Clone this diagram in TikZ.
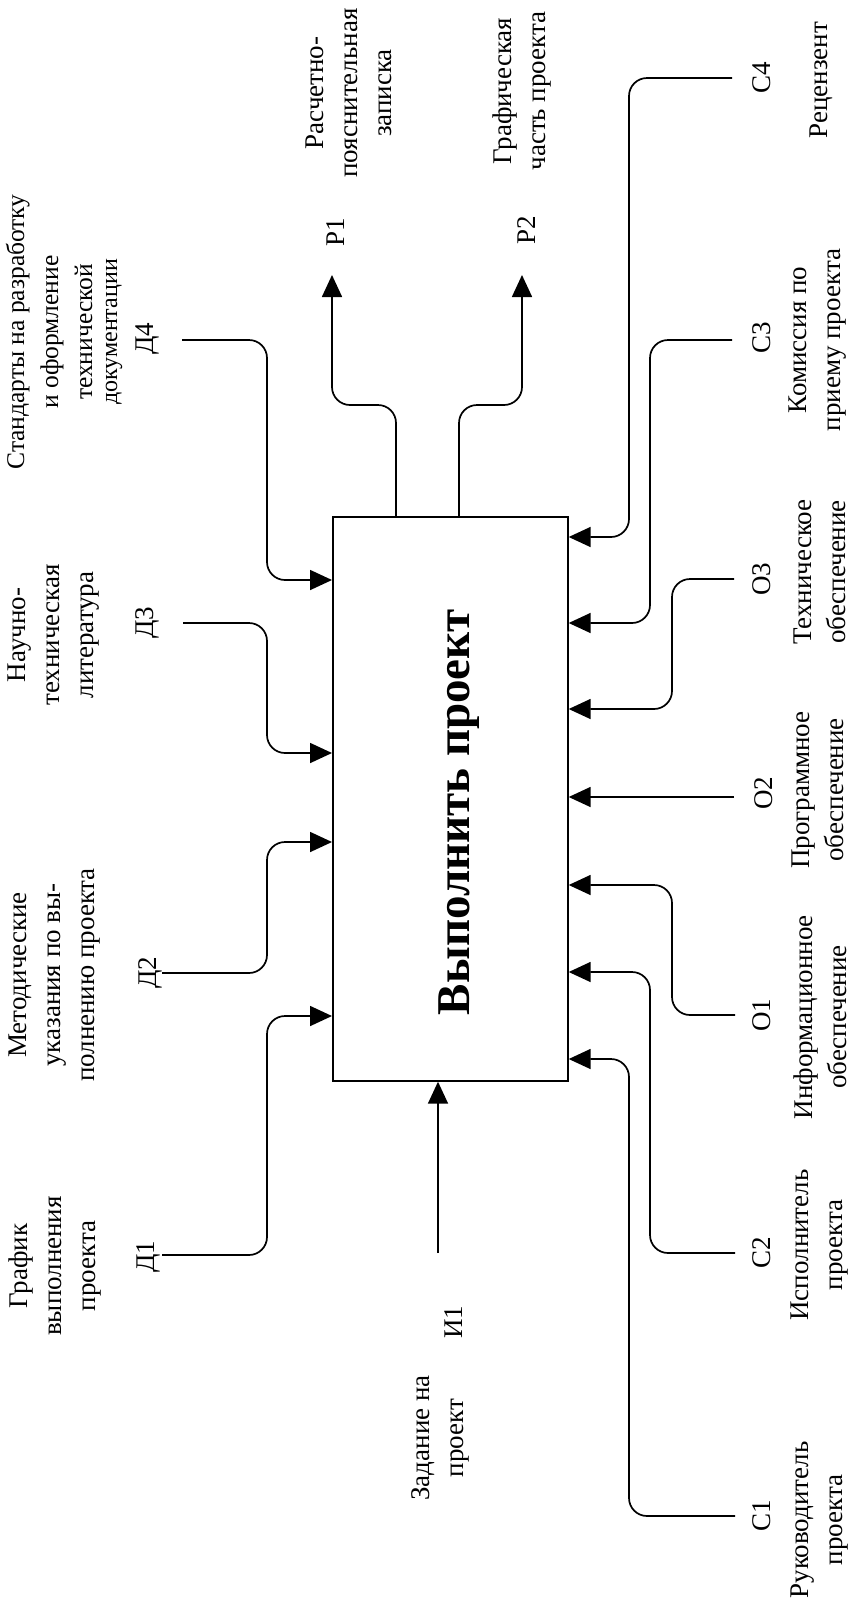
\documentclass[tikz,border=0pt]{standalone}
\usepackage{fontspec}
\setmainfont{Liberation Serif}
\usetikzlibrary{arrows.meta}
\begin{document}
\begin{tikzpicture}[x=1pt,y=-1pt,
  flow/.style={line width=1.7pt, rounded corners=18pt, -{Triangle[length=22pt,width=20pt]}},
  lbl/.style={rotate=90, inner sep=0pt, align=center, font=\fontsize{27}{34}\selectfont},
  code/.style={rotate=90, inner sep=0pt, font=\fontsize{27}{34}\selectfont},
  func/.style={draw, line width=1.7pt, minimum width=235pt, minimum height=564pt, anchor=north west, inner sep=0pt},
]
\useasboundingbox (0,0) rectangle (855,1607);

% function box
\node[func] (box) at (332,516) {};
\node[rotate=90, inner sep=0pt, font=\fontsize{47}{50}\selectfont\bfseries] (title) at (459,812) {Выполнить проект};

% left side labels (Д)
\node[code] (d4) at (147,339) {Д4};
\node[code] (d3) at (147,623) {Д3};
\node[code] (d2) at (150,973) {Д2};
\node[code] (d1) at (148,1257) {Д1};
\node[lbl, font=\fontsize{25.5}{34}\selectfont] (d4t) at (64,332) {Стандарты на разработку\\ и оформление\\ технической\\[-9pt]{\fontsize{24}{28}\selectfont документации}};
\node[lbl] (d3t) at (54,635) {Научно-\\ техническая\\ литература};
\node[lbl] (d2t) at (55,975) {Методические\\ указания по вы-\\ полнению проекта};
\node[lbl] (d1t) at (55,1266) {График\\ выполнения\\ проекта};

% outputs (Р)
\node[code] (p1) at (336,232) {Р1};
\node[code] (p2) at (527,230) {Р2};
\node[lbl] (p1t) at (349,93) {Расчетно-\\ пояснительная\\ записка};
\node[lbl] (p2t) at (522,91) {Графическая\\ часть проекта};

% right side labels
\node[code] (c4) at (762,78) {С4};
\node[code] (c3) at (762,338) {С3};
\node[code] (o3) at (762,579) {О3};
\node[code] (o2) at (764,793) {О2};
\node[code] (o1) at (762,1015) {О1};
\node[code] (c2) at (762,1253) {С2};
\node[code] (c1) at (762,1516) {С1};
\node[lbl] (c4t) at (821,80) {Рецензент};
\node[lbl] (c3t) at (818,340) {Комиссия по\\ приему проекта};
\node[lbl] (o3t) at (820,572) {Техническое\\ обеспечение};
\node[lbl] (o2t) at (818,790) {Программное\\ обеспечение};
\node[lbl] (o1t) at (820,1017) {Информационное\\ обеспечение};
\node[lbl] (c2t) at (820,1245) {Исполнитель\\ проекта};
\node[lbl] (c1t) at (820,1520) {Руководитель\\ проекта};

% input
\node[code] (i1) at (454,1322) {И1};
\node[lbl] (i1t) at (440,1438) {Задание на\\ проект};

% free ends
\coordinate (d4s) at (182,340);
\coordinate (d3s) at (183,623);
\coordinate (d2s) at (162,973);
\coordinate (d1s) at (162,1255);
\coordinate (p1e) at (332,275);
\coordinate (p2e) at (522,275);
\coordinate (c4s) at (732,78);
\coordinate (c3s) at (732,340);
\coordinate (o3s) at (734,579);
\coordinate (o2s) at (734,797);
\coordinate (o1s) at (735,1015);
\coordinate (c2s) at (735,1253);
\coordinate (c1s) at (735,1516);
\coordinate (i1s) at (438,1253);

% left arrows
\draw[flow] (d4s) -- (267,340) -- (267,580) -- ([yshift=-64pt]box.north west);
\draw[flow] (d3s) -- (267,623) -- (267,753) -- ([yshift=-237pt]box.north west);
\draw[flow] (d2s) -- (267,973) -- (267,842) -- ([yshift=-326pt]box.north west);
\draw[flow] (d1s) -- (267,1255) -- (267,1016) -- ([yshift=-500pt]box.north west);

% outputs
\draw[flow] ([xshift=64pt]box.north west) -- (396,405) -- (332,405) -- (p1e);
\draw[flow] ([xshift=127pt]box.north west) -- (459,405) -- (522,405) -- (p2e);

% right arrows
\draw[flow] (c4s) -- (629,78) -- (629,537) -- ([yshift=-21pt]box.north east);
\draw[flow] (c3s) -- (650,340) -- (650,623) -- ([yshift=-107pt]box.north east);
\draw[flow] (o3s) -- (672,579) -- (672,709) -- ([yshift=-193pt]box.north east);
\draw[flow] (o2s) -- ([yshift=-281pt]box.north east);
\draw[flow] (o1s) -- (672,1015) -- (672,885) -- ([yshift=-369pt]box.north east);
\draw[flow] (c2s) -- (650,1253) -- (650,972) -- ([yshift=-456pt]box.north east);
\draw[flow] (c1s) -- (629,1516) -- (629,1059) -- ([yshift=-543pt]box.north east);

% input arrow
\draw[flow] (i1s) -- ([xshift=106pt]box.south west);
\end{tikzpicture}
\end{document}
